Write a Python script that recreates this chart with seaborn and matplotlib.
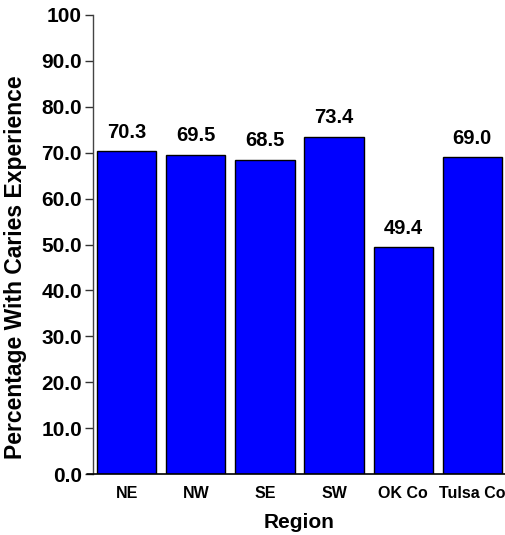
import matplotlib
matplotlib.use("Agg")
import matplotlib.pyplot as plt
from matplotlib.lines import Line2D
import seaborn as sns
import pandas as pd

regions = ["NE", "NW", "SE", "SW", "OK Co", "Tulsa Co"]
percent = [70.3, 69.5, 68.5, 73.4, 49.4, 69.0]
y_ticks = [0, 10, 20, 30, 40, 50, 60, 70, 80, 90, 100]
y_tick_labels = ["0.0", "10.0", "20.0", "30.0", "40.0", "50.0",
                 "60.0", "70.0", "80.0", "90.0", "100"]

sns.set_style("white")
plt.rcParams["font.family"] = ["Liberation Sans", "DejaVu Sans"]
plt.rcParams["font.weight"] = "bold"
plt.rcParams["text.color"] = "black"
plt.rcParams["xtick.color"] = "black"
plt.rcParams["ytick.color"] = "black"
plt.rcParams["axes.labelcolor"] = "black"

df = pd.DataFrame({"Region": regions, "Percent": percent})

fig = plt.figure(figsize=(5.06, 5.35), dpi=100)
ax_bottom = 1 - 474 / 535
ax = fig.add_axes([93 / 506, ax_bottom, 413 / 506, (474 - 15) / 535])

sns.barplot(data=df, x="Region", y="Percent", ax=ax, color="#0000FF",
            saturation=1, width=0.857, edgecolor="black", linewidth=1)

ax.set_xlim(-0.49, 5.49)
ax.set_ylim(0, 100)
ax.set_yticks(y_ticks)
ax.set_yticklabels(y_tick_labels, fontsize=15, fontweight="bold")
ax.tick_params(axis="y", direction="out", length=6, width=1, color="#333333",
               left=True, pad=2)
ax.tick_params(axis="x", length=0, pad=9)
for lbl in ax.get_xticklabels():
    lbl.set_fontsize(11.5)
    lbl.set_fontweight("bold")

for side in ["top", "right", "bottom"]:
    ax.spines[side].set_visible(False)
ax.spines["left"].set_color("#444444")
ax.spines["left"].set_linewidth(1)
# baseline extends a little past the value axis on the left
fig.add_artist(Line2D([87 / 506, 1.0], [ax_bottom, ax_bottom],
                      transform=fig.transFigure, color="black", linewidth=1.2))

for i, v in enumerate(percent):
    ax.annotate(f"{v:.1f}", xy=(i, v), xytext=(0, 7), textcoords="offset points",
                ha="center", va="bottom", fontsize=14.5, fontweight="bold")

ax.set_xlabel("Region", fontsize=15, fontweight="bold", labelpad=8)
ax.set_ylabel("")
fig.text(16 / 506, 1 - 267 / 535, "Percentage With Caries Experience",
         rotation=90, ha="center", va="center", fontsize=16.5, fontweight="bold")

fig.savefig("out.png", dpi=100)
